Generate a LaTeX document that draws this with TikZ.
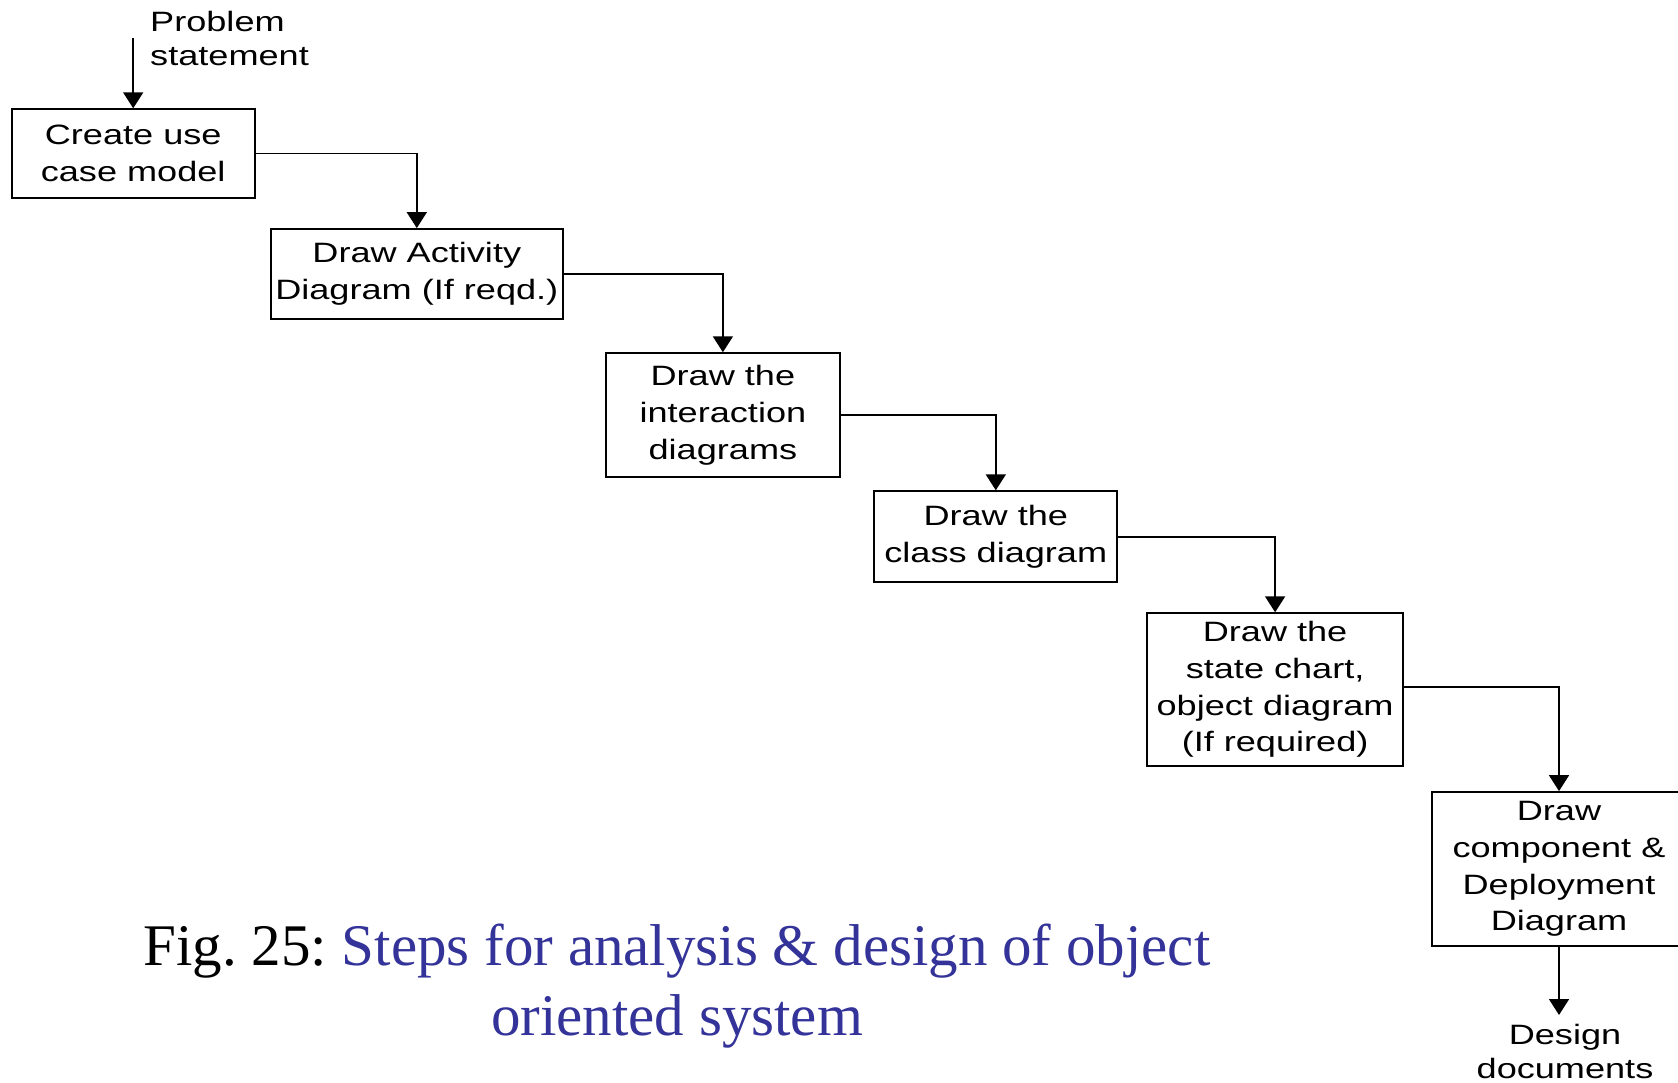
\documentclass[tikz,border=0pt]{standalone}
\usepackage{fontspec}
\usetikzlibrary{arrows.meta}
\newfontfamily\boxfont[FakeStretch=1.29]{Liberation Sans}
\newfontfamily\capfont{Liberation Serif}
\definecolor{capblue}{RGB}{51,51,153}
\frenchspacing
\begin{document}
\begin{tikzpicture}[x=1pt,y=-1pt,
  stepbox/.style={draw, line width=1.8pt, align=center, inner sep=0pt,
    font=\boxfont\fontsize{28}{36.7}\selectfont},
  lbl/.style={inner sep=0pt, font=\boxfont\fontsize{28}{34}\selectfont},
  captext/.style={inner sep=0pt, font=\capfont\fontsize{59}{70}\selectfont},
  arr/.style={line width=1.8pt, -{Triangle[length=16pt,width=20pt]}}]
\useasboundingbox (0,0) rectangle (1678,1083);
\fill[white] (0,0) rectangle (1678,1083);

\node[lbl, align=left, anchor=north west] (ps) at (150,11.5) {Problem\\statement};
\node[stepbox, minimum width=243pt, minimum height=88.8pt] (b1) at (133.2,153.6) {Create use\\case model};
\node[stepbox, minimum width=292pt, minimum height=90pt] (b2) at (416.8,274) {Draw Activity\\Diagram (If reqd.)};
\node[stepbox, minimum width=234.4pt, minimum height=124.1pt] (b3) at (722.9,415.2) {Draw the\\interaction\\diagrams};
\node[stepbox, minimum width=243pt, minimum height=91pt] (b4) at (995.8,536.7) {Draw the\\class diagram};
\node[stepbox, minimum width=255.8pt, minimum height=153pt] (b5) at (1275.1,689.7) {Draw the\\state chart,\\object diagram\\(If required)};
\node[stepbox, minimum width=254pt, minimum height=154pt] (b6) at (1559,869) {Draw\\component \&\\Deployment\\Diagram};
\node[lbl, align=center, anchor=north] (dd) at (1565,1024.5) {Design\\documents};

\coordinate (pstop) at (133.2,38.5);
\draw[arr] (pstop) -- (b1.north);
\draw[arr] (b1.east) -| (b2.north);
\draw[arr] (b2.east) -| (b3.north);
\draw[arr] (b3.east) -| (b4.north);
\draw[arr] (b4.east) -| (b5.north);
\draw[arr] ([yshift=3pt]b5.east) -| (b6.north);
\draw[arr, shorten >=9.5pt] (b6.south) -- (b6.south |- dd.north);

\node[captext, anchor=base] (cap1) at (677,965) {Fig. 25: \textcolor{capblue}{Steps for analysis \& design of object}};
\node[captext, anchor=base, text=capblue] (cap2) at (677,1035) {oriented system};
\end{tikzpicture}
\end{document}
